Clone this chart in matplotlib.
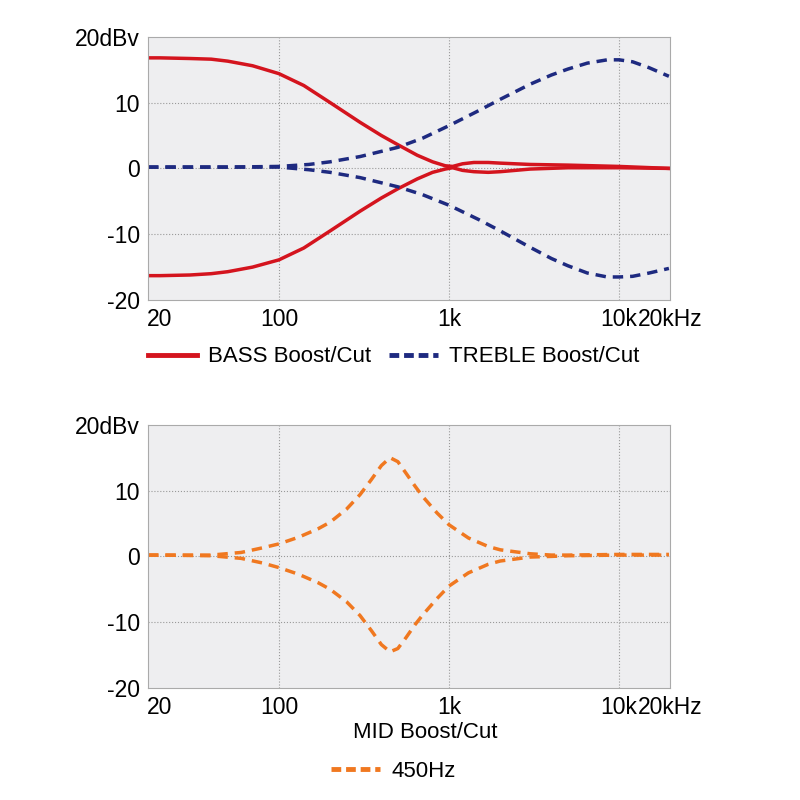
import numpy as np
from matplotlib import pyplot as plt
from matplotlib.lines import Line2D

plt.rcParams['font.family'] = 'Liberation Sans'

# frequencies (Hz) and response (dB)
bass_f = [17, 20, 30, 40, 50, 70, 100, 140, 200, 300, 400, 500, 650, 800, 950, 1050,
          1200, 1400, 1700, 2000, 3000, 5000, 10000, 19600]
bass_boost = [16.8, 16.8, 16.7, 16.6, 16.3, 15.6, 14.4, 12.6, 10.0, 7.0, 5.0, 3.6, 2.0,
              1.0, 0.4, 0.3, 0.7, 0.9, 0.9, 0.8, 0.6, 0.5, 0.3, 0.0]
bass_cut = [-16.3, -16.3, -16.2, -16.0, -15.7, -15.0, -13.9, -12.1, -9.5, -6.5, -4.5,
            -3.1, -1.6, -0.6, -0.1, 0.1, -0.3, -0.5, -0.6, -0.5, -0.1, 0.1, 0.1, 0.0]

treb_f = [17, 20, 50, 100, 150, 200, 300, 500, 700, 1000, 1500, 2000, 3000, 4000, 5000,
          6500, 8500, 10000, 12000, 15000, 19600]
treb_boost = [0.2, 0.2, 0.2, 0.3, 0.6, 1.0, 1.8, 3.2, 4.6, 6.5, 8.8, 10.5, 12.8, 14.2,
              15.1, 16.0, 16.5, 16.5, 16.2, 15.3, 14.0]
treb_cut = [0.2, 0.2, 0.2, 0.2, -0.2, -0.6, -1.4, -2.8, -4.0, -5.6, -7.8, -9.5, -12.0,
            -13.7, -14.8, -15.9, -16.5, -16.5, -16.4, -15.9, -15.2]

mid_f = [17, 20, 40, 60, 80, 100, 130, 170, 200, 250, 300, 350, 400, 450, 500, 560,
         630, 700, 850, 1000, 1300, 1700, 2000, 3000, 4000, 5000, 10000, 19600]
mid_boost = [0.2, 0.2, 0.2, 0.6, 1.3, 1.9, 2.9, 4.2, 5.2, 7.2, 9.4, 11.7, 13.8, 15.0,
             14.4, 12.6, 10.7, 9.1, 6.6, 4.8, 2.8, 1.5, 1.0, 0.4, 0.2, 0.2, 0.3, 0.3]
mid_cut = [0.2, 0.2, 0.1, -0.3, -1.0, -1.7, -2.7, -4.0, -5.0, -6.9, -9.0, -11.3, -13.4,
           -14.5, -14.0, -12.3, -10.4, -8.9, -6.4, -4.5, -2.5, -1.2, -0.7, -0.1, 0.0,
           0.1, 0.2, 0.2]

xticks = [20, 100, 1000, 10000, 20000]
xlabels = ['20', '100', '1k', '10k', '20kHz']
yticks = [-20, -10, 0, 10, 20]
ylabels = ['-20', '-10', '0', '10', '20dBv']

red = '#d4141e'
blue = '#1e2a80'
orange = '#f07820'

fig = plt.figure(figsize=(8, 8), dpi=100)
ax1 = fig.add_axes([0.185, 0.625, 0.653, 0.329])
ax2 = fig.add_axes([0.185, 0.14, 0.653, 0.329])

def style(ax):
    ax.set_xscale('log')
    ax.set_xlim(17, 19600)
    ax.set_ylim(-20, 20)
    ax.set_facecolor('#eeeef0')
    ax.set_xticks(xticks)
    ax.set_xticklabels(xlabels)
    ax.set_xticks([], minor=True)
    ax.set_yticks(yticks)
    ax.set_yticklabels(ylabels)
    ax.tick_params(length=0, labelsize=16.5, pad=6)
    for s in ax.spines.values():
        s.set_color('#aaaaaa')
    for f in [100, 1000, 10000]:
        ax.axvline(f, color='#999999', lw=0.8, ls=':', zorder=0)
    for v in [-10, 0, 10]:
        ax.axhline(v, color='#999999', lw=0.8, ls=':', zorder=0)

style(ax1)
ax1.plot(bass_f, bass_boost, color=red, lw=2.5)
ax1.plot(bass_f, bass_cut, color=red, lw=2.5)
ax1.plot(treb_f, treb_boost, color=blue, lw=2.5, ls=(0, (3, 2)))
ax1.plot(treb_f, treb_cut, color=blue, lw=2.5, ls=(0, (3, 2)))
ax1.legend([Line2D([], [], color=red, lw=3.5), Line2D([], [], color=blue, lw=3.5, ls=(0, (2, 1)))],
           ['BASS Boost/Cut', 'TREBLE Boost/Cut'], loc='upper center',
           bbox_to_anchor=(0.47, -0.1), ncol=2, frameon=False, fontsize=16,
           handlelength=2.2, columnspacing=0.8, handletextpad=0.5)

style(ax2)
ax2.plot(mid_f, mid_boost, color=orange, lw=2.5, ls=(0, (3, 2)))
ax2.plot(mid_f, mid_cut, color=orange, lw=2.5, ls=(0, (3, 2)))
ax2.text(0.53, -0.17, 'MID Boost/Cut', transform=ax2.transAxes, ha='center', va='center', fontsize=16)
ax2.legend([Line2D([], [], color=orange, lw=3.5, ls=(0, (2, 1)))], ['450Hz'],
           loc='upper center', bbox_to_anchor=(0.47, -0.2), frameon=False, fontsize=16,
           handlelength=2.2, handletextpad=0.5)

fig.savefig('out.png')
